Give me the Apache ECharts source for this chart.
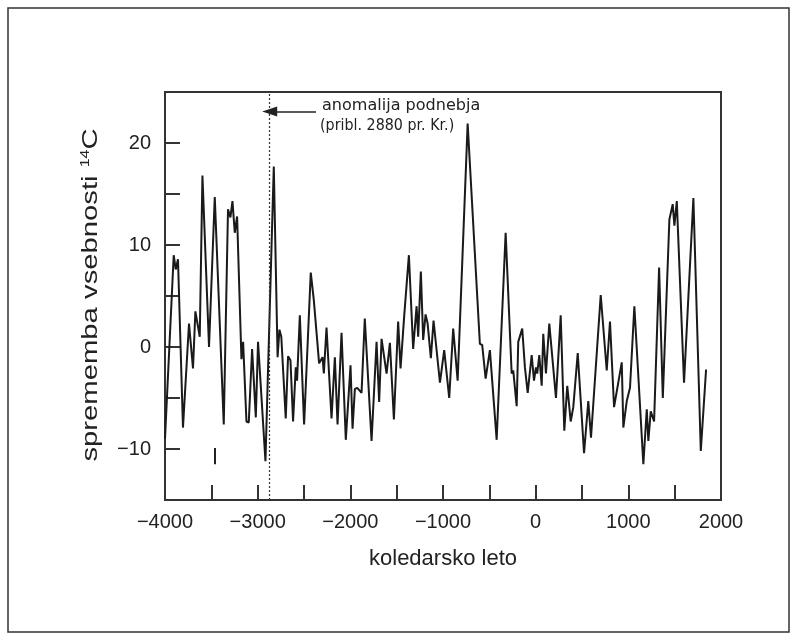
<!DOCTYPE html>
<html><head><meta charset="utf-8">
<script src="https://cdn.jsdelivr.net/npm/echarts@6/dist/echarts.min.js"></script>
<style>html,body{margin:0;padding:0;background:#fff}#c{width:797px;height:640px}</style>
</head><body><div id="c"></div>
<script>
var years = [-4000,-3906,-3884,-3860,-3806,-3741,-3698,-3672,-3625,-3596,-3525,-3463,-3366,-3320,-3294,-3272,-3247,-3222,-3175,-3157,-3121,-3096,-3060,-3020,-2996,-2916,-2826,-2785,-2765,-2745,-2697,-2672,-2646,-2618,-2589,-2575,-2545,-2499,-2427,-2394,-2373,-2337,-2300,-2286,-2257,-2203,-2167,-2138,-2095,-2049,-1998,-1976,-1951,-1926,-1897,-1879,-1844,-1771,-1717,-1689,-1663,-1609,-1573,-1530,-1484,-1458,-1419,-1368,-1322,-1285,-1268,-1239,-1214,-1188,-1166,-1131,-1102,-1033,-987,-933,-890,-842,-734,-602,-577,-540,-494,-421,-324,-259,-242,-205,-188,-145,-116,-86,-43,-18,3,17,39,65,82,111,147,219,270,309,341,378,406,454,522,568,597,702,767,802,846,929,946,983,1018,1065,1162,1199,1216,1242,1278,1332,1372,1443,1479,1497,1523,1601,1702,1782,1839];
var c14 = [-9.0,9.0,7.6,8.6,-7.9,2.3,-2.1,3.5,1.0,16.8,0,14.7,-7.6,13.5,12.7,14.3,11.2,12.8,-1.2,0.5,-7.3,-7.4,-0.2,-6.9,0.5,-11.2,17.7,-1.0,1.7,1.0,-7.0,-0.9,-1.3,-7.3,-2.0,-3.3,3.1,-7.6,7.3,4.6,4.5,-1.6,-1.0,-2.6,1.9,-7.0,-1.0,-7.6,1.4,-9.1,-1.8,-8.0,-4.1,-4.0,-4.3,-4.5,2.8,-9.2,0.5,-5.4,0.8,-2.6,0.4,-7.1,2.5,-2.1,3.0,9.0,-0.2,4.0,1.0,7.4,0.7,3.2,2.3,-1.1,2.6,-3.5,-0.3,-5.0,1.8,-3.3,21.9,0.3,0.2,-3.1,-0.3,-9.1,11.2,-2.6,-2.3,-5.8,0.5,1.8,-2.0,-4.5,-0.8,-3.3,-2.0,-2.6,-0.8,-3.8,1.3,-2.6,2.3,-5.0,3.1,-8.2,-3.8,-7.3,-5.9,-0.6,-10.4,-5.3,-8.9,5.1,-2.3,2.5,-5.9,-1.5,-7.9,-5.3,-4.0,4.0,-11.5,-6.1,-9.2,-6.3,-7.3,7.8,-5.0,12.5,14.0,11.9,14.3,-3.5,14.6,-10.2,-2.2];
var xTickLabels = [-4000,-3000,-2000,-1000,0,1000,2000];
var yTickLabels = [-10,0,10,20];
var anomalyYear = -2880;
var annotationLines = ['anomalija podnebja','(pribl. 2880 pr. Kr.)'];
var xTitle = 'koledarsko leto';
var yTitleParts = ['sprememba vsebnosti ','14','C'];
var stray = [[-3463,-9.9],[-3463,-11.5]];

var ff = '"Liberation Sans", Arial, sans-serif';
var col = '#222';
function minus(v){return String(v).replace('-', '\u2212');}
var chart = echarts.init(document.getElementById('c'), null, {renderer:'canvas'});
var data = years.map(function(y,i){return [y,c14[i]];});
chart.setOption({
  backgroundColor:'#fff',
  animation:false,
  grid:{left:165,right:76,top:92,bottom:140,show:true,borderColor:'#333',borderWidth:2,backgroundColor:'transparent'},
  xAxis:{type:'value',min:-4000,max:2000,interval:500,
    axisLine:{show:true,onZero:false,lineStyle:{color:'#333',width:2}},
    axisTick:{show:true,inside:true,length:15,lineStyle:{color:'#333',width:2}},
    splitLine:{show:false},
    axisLabel:{margin:12,color:col,fontSize:20,fontFamily:ff,
      formatter:function(v){return xTickLabels.indexOf(v)>=0?minus(v):'';}},
    name:xTitle,nameLocation:'middle',nameGap:48,
    nameTextStyle:{fontSize:22,fontFamily:ff,color:col}},
  yAxis:{type:'value',min:-15,max:25,interval:5,
    axisLine:{show:true,onZero:false,lineStyle:{color:'#333',width:2}},
    axisTick:{show:true,inside:true,length:15,lineStyle:{color:'#333',width:2}},
    splitLine:{show:false},
    axisLabel:{margin:14,color:col,fontSize:20,fontFamily:ff,
      formatter:function(v){return yTickLabels.indexOf(v)>=0?minus(v):'';}}},
  series:[
    {type:'line',data:data,symbol:'none',lineStyle:{color:'#1a1a1a',width:2},z:3,
     markLine:{silent:true,symbol:'none',label:{show:false},
       data:[
         [{coord:[anomalyYear,-15],lineStyle:{type:[2,2],color:'#333',width:1.2}},{coord:[anomalyYear,25]}],
         [{coord:[-2370,23.1],symbol:'none',lineStyle:{type:'solid',color:'#222',width:1.5}},{coord:[anomalyYear+10,23.1],symbol:'triangle',symbolSize:[10,15],symbolRotate:90}],
         [{coord:stray[0],lineStyle:{type:'solid',color:'#222',width:2}},{coord:stray[1]}]
       ]}}
  ],
  graphic:[
    {type:'rect',shape:{x:8,y:8,width:781,height:624},style:{fill:'none',stroke:'#333',lineWidth:1.5},silent:true},
    {type:'text',x:322,y:106,scaleX:1.07,scaleY:1.1,style:{text:annotationLines[0],font:'15px "DejaVu Sans", sans-serif',fill:col,verticalAlign:'middle'}},
    {type:'text',x:320,y:126,scaleX:1.02,scaleY:1.1,style:{text:annotationLines[1],font:'14px "DejaVu Sans", sans-serif',fill:col,verticalAlign:'middle'}},
    {type:'text',x:91,y:295,rotation:Math.PI/2,scaleX:1.33,scaleY:1,
     style:{text:'{a|'+yTitleParts[0]+'}{s|'+yTitleParts[1]+'}{a|'+yTitleParts[2]+'}',align:'center',verticalAlign:'middle',
       rich:{a:{fontSize:22,fontFamily:ff,fill:col,color:col},s:{fontSize:12,fontFamily:ff,fill:col,color:col,verticalAlign:'top',padding:[0,0,10,0]}}}}
  ]
});
</script></body></html>
